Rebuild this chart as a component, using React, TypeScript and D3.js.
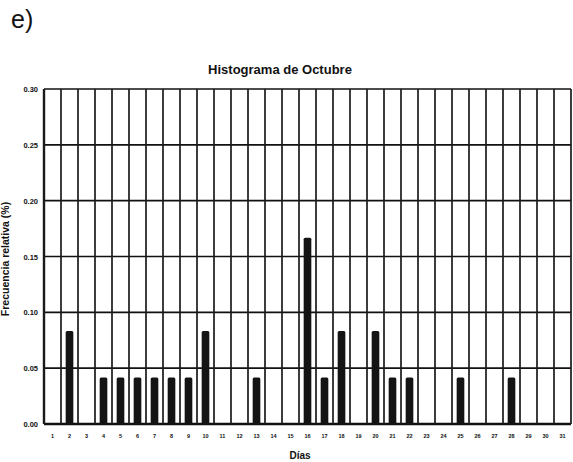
import React from "react";
import * as d3 from "d3";

const days: string[] = Array.from({ length: 31 }, (_, i) => String(i + 1));
const freq: number[] = [
  0, 0.0833, 0, 0.0417, 0.0417, 0.0417, 0.0417, 0.0417, 0.0417, 0.0833,
  0, 0, 0.0417, 0, 0, 0.1667, 0.0417, 0.0833, 0, 0.0833,
  0.0417, 0.0417, 0, 0, 0.0417, 0, 0, 0.0417, 0, 0, 0,
];
const yTicks: number[] = [0, 0.05, 0.1, 0.15, 0.2, 0.25, 0.3];

const W = 573;
const H = 462;
const left = 44;
const right = 571;
const top = 89;
const bottom = 424;

export default function App() {
  const x = d3.scaleBand<string>().domain(days).range([left, right]).paddingInner(0).paddingOuter(0);
  const y = d3.scaleLinear().domain([0, 0.3]).range([bottom, top]);
  const bw = x.bandwidth() * 0.45;
  const font = "'Liberation Sans', Arial, sans-serif";
  return (
    <svg width={W} height={H} style={{ position: "absolute", left: 0, top: 0, background: "#fff" }}>
      <rect x={0} y={0} width={W} height={H} fill="#fff" />
      <text x={11} y={28} fontFamily={font} fontSize={25} fill="#111">e)</text>
      <text x={280} y={74} textAnchor="middle" fontFamily={font} fontSize={13} fontWeight="bold" fill="#111">
        Histograma de Octubre
      </text>
      {/* horizontal grid */}
      {yTicks.map((t) => (
        <line key={"h" + t} x1={left} x2={right} y1={y(t)} y2={y(t)} stroke="#111" strokeWidth={t === 0 ? 2.5 : 1.7} />
      ))}
      {/* vertical grid */}
      {days.map((d, i) => (
        <line key={"v" + d} x1={x(d)!} x2={x(d)!} y1={top} y2={bottom} stroke="#1a1a1a" strokeWidth={i === 0 ? 2.4 : 1.7} />
      ))}
      <line x1={right} x2={right} y1={top} y2={bottom} stroke="#1a1a1a" strokeWidth={1.7} />
      {/* bars */}
      {freq.map((v, i) =>
        v > 0 ? (
          <rect
            key={"b" + i}
            x={x(days[i])! + (x.bandwidth() - bw) / 2}
            y={y(v)}
            width={bw}
            height={y(0) - y(v)}
            rx={1.5}
            fill="#141414"
          />
        ) : null
      )}
      {/* y tick labels */}
      {yTicks.map((t) => (
        <text key={"yl" + t} x={38} y={y(t) + 3} textAnchor="end" fontFamily={font} fontSize={7.5} fontWeight="bold" fill="#111">
          {t.toFixed(2)}
        </text>
      ))}
      {/* x tick labels */}
      {days.map((d) => (
        <text key={"xl" + d} x={x(d)! + x.bandwidth() / 2} y={438} textAnchor="middle" fontFamily={font} fontSize={5.5} fontWeight="bold" fill="#111">
          {d}
        </text>
      ))}
      <text x={300} y={459} textAnchor="middle" fontFamily={font} fontSize={10} fontWeight="bold" fill="#111">Días</text>
      <text transform={`translate(9, ${259}) rotate(-90)`} textAnchor="middle" fontFamily={font} fontSize={10.5} fontWeight="bold" fill="#111">
        Frecuencia relativa (%)
      </text>
    </svg>
  );
}
